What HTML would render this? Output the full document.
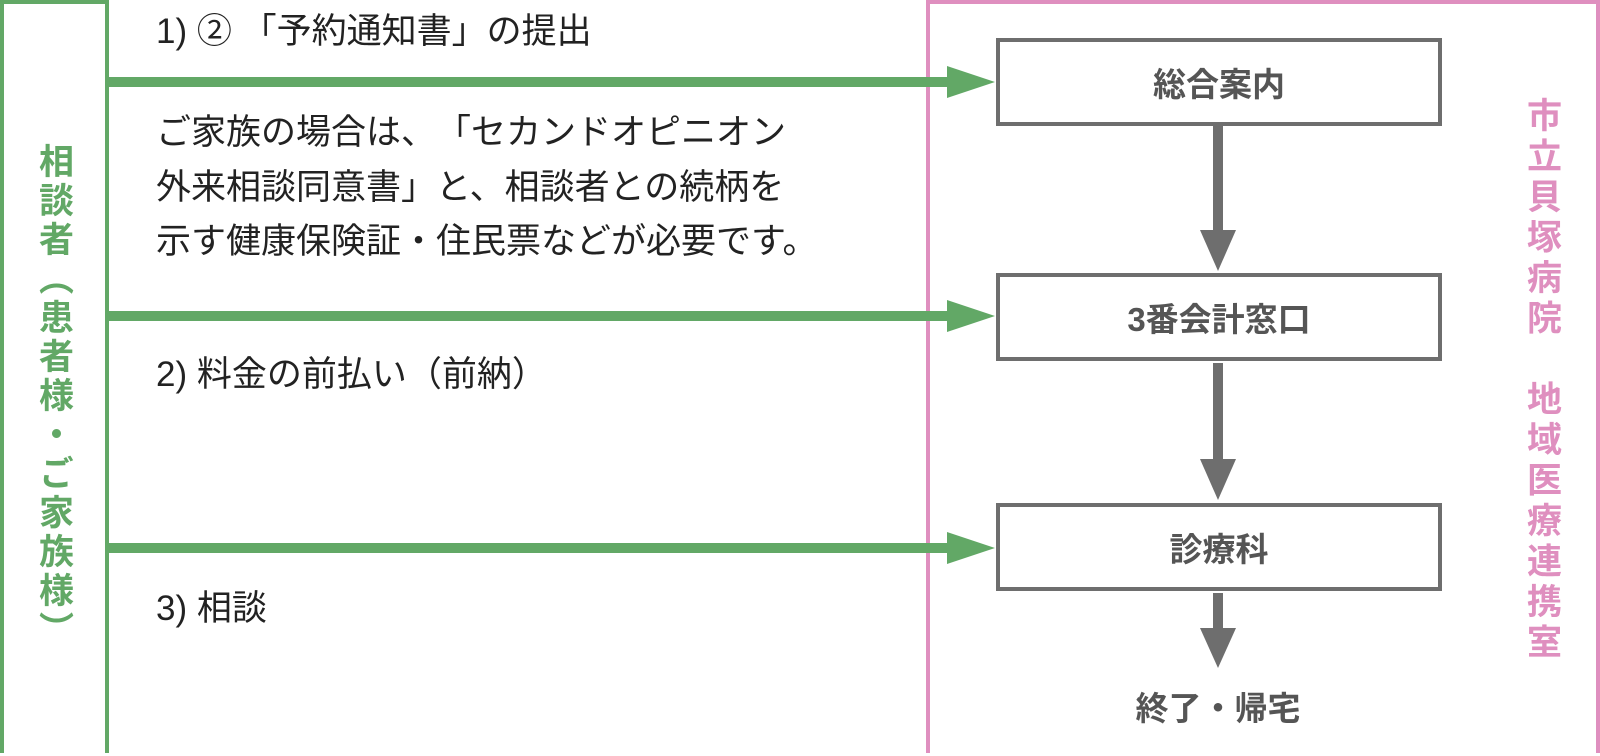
<!DOCTYPE html>
<html><head><meta charset="utf-8"><style>
html,body{margin:0;padding:0;background:#fff;}
body{width:1600px;height:756px;position:relative;overflow:hidden;font-family:"Liberation Sans","Noto Sans CJK JP",sans-serif;text-spacing-trim:space-all;font-feature-settings:"chws" 0,"halt" 0,"palt" 0;}
.abs{position:absolute;}
.t{position:absolute;color:#222;font-size:35px;white-space:nowrap;line-height:1;}
.box{position:absolute;left:996px;width:438px;height:80px;border:4px solid #6e6e6e;display:flex;align-items:center;justify-content:center;font-size:33px;color:#555;font-weight:bold;}
.vt{position:absolute;writing-mode:vertical-rl;font-weight:bold;font-size:35px;line-height:1;letter-spacing:4px;}
</style></head><body>
<div class="abs" style="left:0;top:0;width:101px;height:749px;border:4px solid #62a866;border-bottom:none;"></div>
<div class="abs" style="left:926px;top:0;width:666px;height:749px;border:4px solid #df8fbf;border-bottom:none;"></div>

<svg class="abs" style="left:0;top:0" width="1600" height="756">
 <g fill="#62a866">
  <rect x="108" y="77" width="845" height="10"/><polygon points="947,66 995,82 947,98"/>
  <rect x="108" y="311" width="845" height="10"/><polygon points="947,300 995,316 947,332"/>
  <rect x="108" y="543" width="845" height="10"/><polygon points="947,532 995,548 947,564"/>
 </g>
 <g fill="#6e6e6e">
  <rect x="1213" y="126" width="10" height="106"/><polygon points="1200,230 1236,230 1218,271"/>
  <rect x="1213" y="363" width="10" height="98"/><polygon points="1200,459 1236,459 1218,500"/>
  <rect x="1213" y="593" width="10" height="37"/><polygon points="1200,628 1236,628 1218,668"/>
 </g>
</svg>

<div class="box" style="top:38px;">総合案内</div>
<div class="box" style="top:273px;">3番会計窓口</div>
<div class="box" style="top:503px;">診療科</div>
<div class="t" style="left:1218px;top:692px;transform:translateX(-50%);font-size:33px;color:#555;font-weight:bold;">終了・帰宅</div>

<div class="t" style="left:156px;top:14px;">1) ② 「予約通知書」の提出</div>
<div class="t" style="left:156px;top:106px;line-height:54.5px;">ご家族の場合は、「セカンドオピニオン<br>外来相談同意書」と、相談者との続柄を<br>示す健康保険証・住民票などが必要です。</div>
<div class="t" style="left:156px;top:348px;line-height:54px;">2) 料金の前払い（前納）</div>
<div class="t" style="left:156px;top:582px;line-height:54px;">3) 相談</div>

<div class="vt" style="left:36px;top:143px;color:#62a866;">相談者︵患者様・ご家族様︶</div>
<div class="vt" style="left:1524px;top:97px;color:#df8fbf;letter-spacing:5.5px;">市立貝塚病院　地域医療連携室</div>
</body></html>
